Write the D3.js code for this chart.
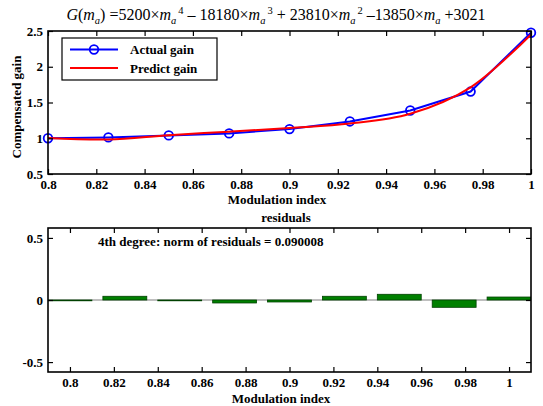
<!DOCTYPE html>
<html>
<head>
<meta charset="utf-8">
<script src="https://cdn.jsdelivr.net/npm/d3@7"></script>
<style>
  html, body { margin: 0; padding: 0; background: #fff; }
  svg { display: block; }
  text { font-family: "Liberation Serif", "Times New Roman", serif; }
</style>
</head>
<body>
<script>
// Modulation index samples
const modIndex = [0.8, 0.825, 0.85, 0.875, 0.9, 0.925, 0.95, 0.975, 1.0];
// Measured compensated gain
const actualGain = [1.0, 1.012, 1.04, 1.068, 1.128, 1.235, 1.388, 1.653, 2.476];
// Gain from the 4th-degree polynomial fit
const predictGain = [1.005, 0.982, 1.043, 1.092, 1.144, 1.205, 1.342, 1.712, 2.452];
// Fit residuals (actual - predicted)
const residuals = [-0.005, 0.03, -0.003, -0.024, -0.016, 0.03, 0.046, -0.059, 0.024];

const topXTicks = [0.8, 0.82, 0.84, 0.86, 0.88, 0.9, 0.92, 0.94, 0.96, 0.98, 1];
const topYTicks = [0.5, 1, 1.5, 2, 2.5];
const botXTicks = [0.8, 0.82, 0.84, 0.86, 0.88, 0.9, 0.92, 0.94, 0.96, 0.98, 1];
const botYTicks = [-0.5, 0, 0.5];

const W = 543, H = 406;
const FS = 13;
const svg = d3.select("body").append("svg").attr("width", W).attr("height", H);

const fmt = d => (d === 1 ? "1" : String(d));
const TICK = 5;

// draws a boxed axes with inward ticks on all four sides
function boxAxes(g, x, y, xTicks, yTicks) {
  const [x0, x1] = x.range();
  const [y0, y1] = y.range(); // y0 bottom, y1 top
  g.append("rect").attr("x", x0).attr("y", y1).attr("width", x1 - x0).attr("height", y0 - y1)
    .attr("fill", "none").attr("stroke", "#000").attr("stroke-width", 1.6);

  const xb = g.append("g").attr("transform", `translate(0,${y0})`)
    .call(d3.axisBottom(x).tickValues(xTicks).tickSizeInner(-TICK).tickSizeOuter(0).tickPadding(5.5).tickFormat(fmt));
  const xt = g.append("g").attr("transform", `translate(0,${y1})`)
    .call(d3.axisTop(x).tickValues(xTicks).tickSizeInner(-TICK).tickSizeOuter(0).tickFormat(""));
  const yl = g.append("g").attr("transform", `translate(${x0},0)`)
    .call(d3.axisLeft(y).tickValues(yTicks).tickSizeInner(-TICK).tickSizeOuter(0).tickPadding(5).tickFormat(fmt));
  const yr = g.append("g").attr("transform", `translate(${x1},0)`)
    .call(d3.axisRight(y).tickValues(yTicks).tickSizeInner(-TICK).tickSizeOuter(0).tickFormat(""));
  [xb, xt, yl, yr].forEach(a => {
    a.select(".domain").remove();
    a.selectAll(".tick line").attr("stroke", "#000").attr("stroke-width", 1.2);
    a.selectAll("text").attr("fill", "#000").attr("font-size", FS).attr("font-weight", "bold")
      .attr("font-family", "Liberation Serif, serif");
  });
}

// ---------- top panel: gain vs modulation index ----------
const xTop = d3.scaleLinear().domain([0.8, 1.0]).range([48, 531]);
const yTop = d3.scaleLinear().domain([0.5, 2.5]).range([174, 31]);
const gTop = svg.append("g");

const lineA = d3.line().x((d, i) => xTop(modIndex[i])).y(d => yTop(d));
const lineP = d3.line().x((d, i) => xTop(modIndex[i])).y(d => yTop(d)).curve(d3.curveCatmullRom.alpha(0.5));

gTop.append("path").datum(actualGain).attr("d", lineA)
  .attr("fill", "none").attr("stroke", "#0000ff").attr("stroke-width", 2);
gTop.selectAll("circle.pt").data(actualGain).join("circle").attr("class", "pt")
  .attr("cx", (d, i) => xTop(modIndex[i])).attr("cy", d => yTop(d)).attr("r", 4.3)
  .attr("fill", "none").attr("stroke", "#0000ff").attr("stroke-width", 1.8);
gTop.append("path").datum(predictGain).attr("d", lineP)
  .attr("fill", "none").attr("stroke", "#ff0000").attr("stroke-width", 2);

boxAxes(gTop, xTop, yTop, topXTicks, topYTicks);

// legend
const leg = gTop.append("g");
leg.append("rect").attr("x", 62).attr("y", 38).attr("width", 155).attr("height", 42)
  .attr("fill", "#fff").attr("stroke", "#000").attr("stroke-width", 1.2);
leg.append("line").attr("x1", 70).attr("x2", 118).attr("y1", 49.5).attr("y2", 49.5)
  .attr("stroke", "#0000ff").attr("stroke-width", 2);
leg.append("circle").attr("cx", 94).attr("cy", 49.5).attr("r", 4.3)
  .attr("fill", "none").attr("stroke", "#0000ff").attr("stroke-width", 1.8);
leg.append("line").attr("x1", 70).attr("x2", 118).attr("y1", 68).attr("y2", 68)
  .attr("stroke", "#ff0000").attr("stroke-width", 2);
leg.append("text").attr("x", 130).attr("y", 54).text("Actual gain")
  .attr("font-size", FS).attr("font-weight", "bold");
leg.append("text").attr("x", 130).attr("y", 72.5).text("Predict gain")
  .attr("font-size", FS).attr("font-weight", "bold");

// axis labels
svg.append("text").attr("x", 277).attr("y", 203.5).attr("text-anchor", "middle")
  .attr("font-size", FS).attr("font-weight", "bold").text("Modulation index");
svg.append("text").attr("transform", "translate(21,107) rotate(-90)").attr("text-anchor", "middle")
  .attr("font-size", FS).attr("font-weight", "bold").text("Compensated gain");

// title: fitted polynomial
const title = svg.append("text").attr("x", 276).attr("y", 20).attr("text-anchor", "middle")
  .attr("font-size", 16);
const parts = [
  ["G", "i"], ["(", ""], ["m", "i"], ["a", "sub"], [") =5200×", ""], ["m", "i"], ["a", "sub"], ["4", "sup"],
  [" – 18180×", ""], ["m", "i"], ["a", "sub"], ["3", "sup"],
  [" + 23810×", ""], ["m", "i"], ["a", "sub"], ["2", "sup"],
  [" –13850×", ""], ["m", "i"], ["a", "sub"], [" +3021", ""]
];
let shift = 0;
parts.forEach(([t, k]) => {
  const target = k === "sub" ? 4 : k === "sup" ? -6 : 0;
  const ts = title.append("tspan").text(t).attr("dy", target - shift);
  shift = target;
  if (k === "i") ts.attr("font-style", "italic");
  if (k === "sub") ts.attr("font-style", "italic").attr("font-size", 10.5);
  if (k === "sup") ts.attr("font-size", 10.5).attr("dx", 2);
});

// ---------- bottom panel: residuals ----------
const xBot = d3.scaleLinear().domain([0.79, 1.01]).range([48, 531]);
const yBot = d3.scaleLinear().domain([-0.58, 0.58]).range([372, 228]);
const gBot = svg.append("g");
const clipId = "botclip";
gBot.append("clipPath").attr("id", clipId).append("rect")
  .attr("x", 48).attr("y", 228).attr("width", 483).attr("height", 144);

const barW = xBot(0.81) - xBot(0.79);
const bars = gBot.append("g").attr("clip-path", `url(#${clipId})`);
bars.append("line").attr("x1", 48).attr("x2", 531).attr("y1", yBot(0)).attr("y2", yBot(0))
  .attr("stroke", "#808080").attr("stroke-width", 1.2);
bars.selectAll("rect").data(residuals).join("rect")
  .attr("x", (d, i) => xBot(modIndex[i]) - barW / 2)
  .attr("y", d => Math.min(yBot(d), yBot(0)))
  .attr("width", barW)
  .attr("height", d => Math.max(Math.abs(yBot(d) - yBot(0)), 0.8))
  .attr("fill", "#008000").attr("stroke", "#004000").attr("stroke-width", 0.8);

boxAxes(gBot, xBot, yBot, botXTicks, botYTicks);

gBot.append("text").attr("x", 98).attr("y", 246).attr("font-size", FS).attr("font-weight", "bold")
  .text("4th degree: norm of residuals = 0.090008");
svg.append("text").attr("x", 286).attr("y", 222).attr("text-anchor", "middle")
  .attr("font-size", FS).attr("font-weight", "bold").text("residuals");
svg.append("text").attr("x", 281).attr("y", 402.5).attr("text-anchor", "middle")
  .attr("font-size", FS).attr("font-weight", "bold").text("Modulation index");
</script>
</body>
</html>
